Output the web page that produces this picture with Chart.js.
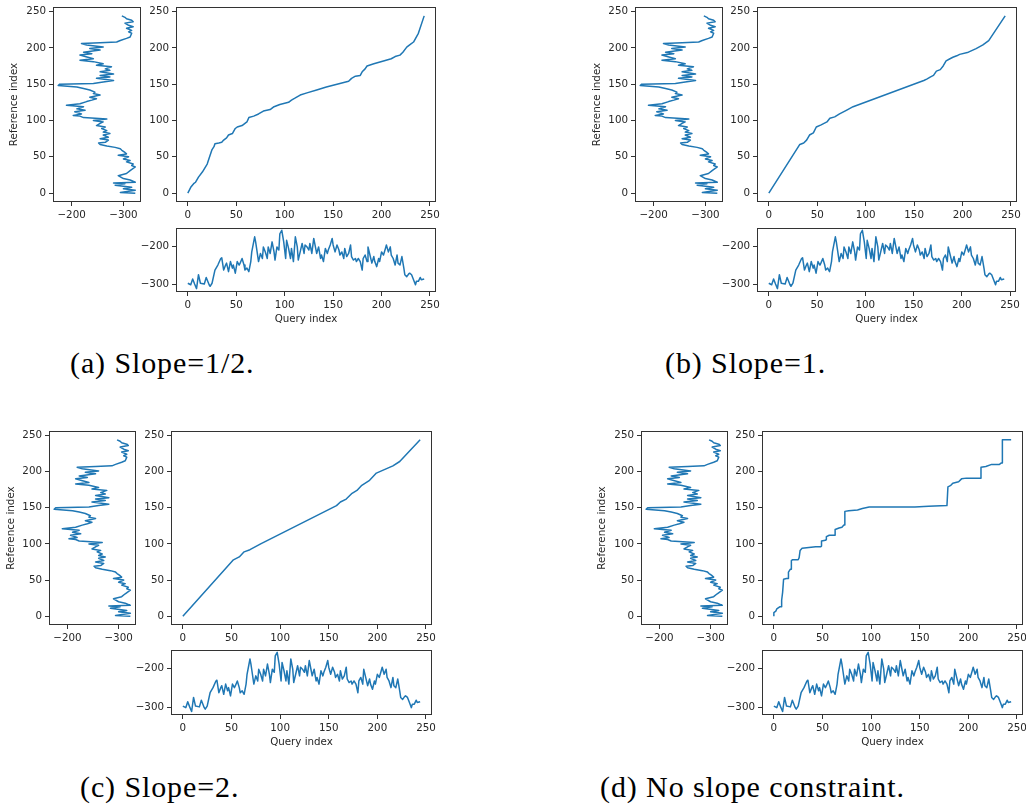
<!DOCTYPE html>
<html>
<head>
<meta charset="utf-8">
<script src="https://cdn.jsdelivr.net/npm/chart.js@4.4.0/dist/chart.umd.min.js"></script>
<style>
  html, body { margin: 0; padding: 0; background: #fff; }
  body { position: relative; width: 1026px; height: 806px; overflow: hidden; }
  canvas { position: absolute; }
  .cap { position: absolute; font-family: "Liberation Serif", serif; font-size: 30px; line-height: 30px;
         letter-spacing: 0.9px; color: #000; white-space: nowrap; }
</style>
</head>
<body>
<script>
// Reference series: sample index and value
const refIndex = [
  0, 1, 4, 6, 8, 11, 13, 14, 15, 18,
  20, 24, 27, 31, 36, 38, 40, 43, 45, 47,
  50, 52, 54, 56, 59, 61, 63, 65, 67, 69,
  70, 73, 75, 77, 80, 82, 84, 86, 89, 91,
  93, 96, 98, 100, 102, 104, 106, 107, 109, 112,
  114, 116, 119, 121, 123, 126, 128, 130, 132, 135,
  137, 139, 142, 144, 146, 148, 150, 151, 153, 155,
  158, 160, 162, 164, 167, 169, 171, 174, 176, 178,
  181, 183, 185, 188, 190, 192, 194, 197, 199, 201,
  204, 206, 207, 208, 210, 213, 215, 220, 222, 224,
  227, 229, 231, 234, 236, 238, 240, 242, 244
];
const refValue = [
  -323, -294, -323, -300, -316, -284, -303, -281, -323, -313,
  -300, -290, -306, -313, -323, -316, -319, -306, -313, -300,
  -310, -290, -306, -303, -297, -294, -284, -268, -255, -252,
  -265, -271, -255, -271, -261, -274, -261, -268, -258, -265,
  -248, -255, -261, -242, -268, -223, -216, -203, -219, -206,
  -226, -210, -223, -190, -216, -229, -239, -248, -235, -255,
  -242, -245, -235, -223, -210, -174, -177, -242, -261, -281,
  -248, -274, -255, -281, -255, -274, -265, -277, -248, -261,
  -242, -216, -242, -226, -216, -239, -223, -255, -235, -261,
  -229, -219, -255, -287, -294, -306, -313, -316, -310, -316,
  -306, -319, -310, -303, -319, -316, -306, -303, -297
];

// Query series: sample index and value
const queryIndex = [
  0, 3, 5, 7, 9, 11, 13, 17, 19, 22,
  23, 25, 28, 31, 34, 35, 37, 39, 40, 42,
  44, 46, 47, 49, 51, 53, 54, 56, 58, 59,
  61, 63, 65, 66, 69, 70, 71, 73, 75, 77,
  78, 80, 82, 83, 85, 87, 89, 90, 92, 94,
  95, 97, 99, 101, 102, 104, 106, 107, 109, 111,
  113, 114, 116, 118, 120, 121, 123, 125, 126, 128,
  130, 132, 133, 135, 137, 138, 140, 142, 144, 145,
  147, 149, 150, 152, 154, 156, 157, 159, 161, 162,
  164, 166, 168, 169, 171, 173, 174, 176, 178, 180,
  181, 183, 185, 186, 188, 190, 192, 193, 195, 197,
  198, 200, 202, 204, 205, 207, 209, 210, 212, 214,
  216, 217, 219, 221, 223, 224, 226, 228, 229, 231,
  233, 235, 236, 238, 240, 241, 244
];
const queryValue = [
  -296, -300, -285, -298, -310, -274, -296, -298, -281, -300,
  -304, -296, -262, -249, -232, -230, -262, -249, -244, -266,
  -240, -257, -249, -270, -240, -249, -244, -232, -249, -262,
  -257, -266, -240, -215, -176, -189, -206, -240, -219, -232,
  -202, -215, -232, -202, -219, -189, -215, -236, -202, -210,
  -168, -159, -189, -232, -185, -206, -232, -206, -240, -176,
  -202, -236, -215, -193, -219, -197, -202, -210, -193, -219,
  -180, -206, -219, -202, -232, -223, -240, -206, -219, -210,
  -197, -180, -197, -215, -197, -210, -223, -215, -232, -206,
  -227, -219, -197, -227, -236, -232, -240, -232, -240, -262,
  -232, -223, -240, -202, -223, -244, -227, -240, -253, -232,
  -240, -215, -223, -206, -197, -215, -202, -223, -232, -249,
  -223, -244, -249, -227, -257, -274, -279, -272, -270, -274,
  -287, -300, -291, -291, -281, -287, -285
];

// Warping paths (query index -> reference index)
const pathHalfQuery = [0, 3, 6, 8, 11, 15, 20, 23, 25, 27, 28, 32, 35, 37, 40, 42, 46, 49, 51, 56, 59, 61, 63, 68, 73, 78, 85, 89, 95, 104, 107, 111, 116, 123, 133, 143, 157, 166, 169, 173, 178, 180, 183, 185, 192, 202, 210, 214, 219, 222, 226, 229, 233, 238, 244];
const pathHalfRef   = [0, 8, 13, 15, 22, 29, 40, 52, 60, 64, 68, 69, 70, 73, 76, 80, 82, 89, 91, 93, 96, 98, 104, 106, 109, 113, 115, 119, 122, 125, 128, 131, 135, 138, 142, 146, 151, 154, 158, 161, 162, 167, 171, 175, 178, 182, 185, 188, 190, 194, 201, 204, 208, 220, 244];

const pathOneQuery = [0, 32, 36, 39, 42, 46, 49, 54, 60, 63, 68, 73, 80, 87, 160, 163, 167, 170, 173, 177, 180, 183, 187, 190, 194, 197, 206, 214, 221, 227, 244];
const pathOneRef   = [0, 67, 69, 73, 80, 83, 91, 94, 98, 103, 105, 109, 114, 119, 155, 157, 160, 162, 168, 170, 175, 182, 185, 187, 189, 191, 194, 199, 204, 210, 244];

const pathTwoQuery = [0, 52, 58, 63, 69, 80, 158, 162, 168, 174, 179, 184, 192, 199, 206, 216, 223, 244];
const pathTwoRef   = [0, 78, 82, 89, 92, 100, 153, 158, 162, 170, 174, 181, 188, 198, 202, 208, 214, 244];

const pathFreeQuery = [0, 0, 2, 3, 6, 8, 8, 9, 10, 13, 15, 15, 17, 18, 18, 19, 25, 26, 27, 29, 36, 43, 48, 49, 49, 53, 54, 54, 57, 63, 63, 67, 70, 72, 73, 73, 77, 86, 91, 98, 145, 159, 178, 179, 182, 184, 190, 193, 198, 212, 213, 218, 224, 232, 234, 235, 235, 244];
const pathFreeRef   = [0, 5, 7, 10, 13, 13, 22, 33, 51, 52, 52, 61, 65, 65, 77, 78, 78, 81, 91, 94, 95, 96, 96, 97, 104, 105, 106, 110, 112, 112, 120, 122, 123, 126, 126, 145, 146, 147, 149, 151, 151, 152, 153, 179, 181, 184, 186, 190, 191, 191, 206, 207, 210, 210, 212, 212, 244, 244];

// Tick positions
const indexTicks = [0, 50, 100, 150, 200, 250];
const valueTicks = [-200, -300];

const captions = ['(a) Slope=1/2.', '(b) Slope=1.', '(c) Slope=2.', '(d) No slope constraint.'];
const refAxisTitle = 'Reference index';
const queryAxisTitle = 'Query index';

// ---------- drawing ----------
const FONT = "'DejaVu Sans', sans-serif";
const FS = 10.3;
const LH = FS * 1.2;
const TEXT = '#262626';
const EDGE = '#333333';
const LINE = '#1f77b4';

const indexRange = { min: -12.2, max: 256.2 };
const refValueRange = { min: -334, max: -164 };
const queryValueRange = { min: -318.7, max: -153.1 };

const fmt = v => (v < 0 ? '\u2212' + Math.abs(v) : String(v));

const framePlugin = {
  id: 'frame',
  afterDatasetsDraw(chart) {
    const { ctx, chartArea: a } = chart;
    ctx.save();
    ctx.strokeStyle = EDGE;
    ctx.lineWidth = 1;
    ctx.strokeRect(a.left + 0.5, a.top + 0.5, a.right - a.left - 1, a.bottom - a.top - 1);
    ctx.restore();
  }
};

function axis(range, ticks, size, horizontal, extra) {
  extra = extra || {};
  return {
    type: 'linear',
    min: range.min,
    max: range.max,
    reverse: !!extra.reverse,
    afterBuildTicks: s => { s.ticks = ticks.map(v => ({ value: v })); },
    afterFit: s => {
      if (horizontal) s.height = size; else s.width = size;
      s.paddingLeft = s.paddingRight = s.paddingTop = s.paddingBottom = 0;
    },
    border: { display: false },
    grid: { drawOnChartArea: false, drawTicks: true, tickLength: 4, color: EDGE, lineWidth: 1 },
    ticks: {
      font: { family: FONT, size: FS }, color: TEXT, padding: 3,
      maxRotation: 0, minRotation: 0, autoSkip: false,
      callback: v => fmt(v)
    },
    title: extra.title
      ? { display: true, text: extra.title, color: TEXT, font: { family: FONT, size: FS }, padding: extra.titlePad }
      : { display: false }
  };
}

function plot(frame, pad, xScale, yScale, points) {
  const [L, T, R, B] = frame;
  const w = R - L + pad.l + pad.r;
  const h = B - T + pad.t + pad.b;
  const c = document.createElement('canvas');
  c.width = w; c.height = h;
  c.style.left = (L - pad.l) + 'px';
  c.style.top = (T - pad.t) + 'px';
  c.style.width = w + 'px';
  c.style.height = h + 'px';
  document.body.appendChild(c);
  return new Chart(c, {
    type: 'scatter',
    data: {
      datasets: [{
        data: points, showLine: true, borderColor: LINE, borderWidth: 1.5,
        pointRadius: 0, pointHoverRadius: 0, tension: 0, fill: false,
        borderJoinStyle: 'round'
      }]
    },
    options: {
      responsive: false, animation: false, devicePixelRatio: 1, events: [],
      layout: { padding: { top: pad.t, right: pad.r, left: 0, bottom: 0 } },
      plugins: { legend: { display: false }, tooltip: { enabled: false }, title: { display: false } },
      scales: { x: xScale, y: yScale }
    },
    plugins: [framePlugin]
  });
}

const zip = (xs, ys) => xs.map((x, i) => ({ x, y: ys[i] }));

const panels = [
  { left: [53, 7, 141, 202], main: [176, 7, 436, 202], bottom: [176, 228, 436, 292],
    refLabelX: 14.6, queryLabelY: 319, cap: [70, 373], q: pathHalfQuery, r: pathHalfRef },
  { left: [635, 7, 723, 202], main: [757, 7, 1017, 202], bottom: [757, 228, 1016, 292],
    refLabelX: 597.5, queryLabelY: 319, cap: [665, 373], q: pathOneQuery, r: pathOneRef },
  { left: [49, 431, 136, 625], main: [171, 431, 432, 625], bottom: [171, 650, 432, 715],
    refLabelX: 11.6, queryLabelY: 742, cap: [80, 797], q: pathTwoQuery, r: pathTwoRef },
  { left: [641, 431, 728, 625], main: [762, 431, 1023, 625], bottom: [762, 650, 1023, 715],
    refLabelX: 602.5, queryLabelY: 742, cap: [600, 797], q: pathFreeQuery, r: pathFreeRef }
];

panels.forEach((p, k) => {
  // reference series, drawn vertically with the value axis reversed
  const canvasLeft = Math.floor(p.refLabelX - 8);
  const lp = { l: p.left[0] - canvasLeft, t: 8, r: 8, b: 22 };
  plot(p.left, lp,
    axis(refValueRange, valueTicks, lp.b, true, { reverse: true }),
    axis(indexRange, indexTicks, lp.l, false, {
      title: refAxisTitle, titlePad: { top: p.refLabelX - canvasLeft - LH / 2, bottom: 0 }
    }),
    zip(refValue, refIndex));

  // warping path
  const mp = { l: 32, t: 8, r: 10, b: 22 };
  plot(p.main, mp,
    axis(indexRange, indexTicks, mp.b, true),
    axis(indexRange, indexTicks, mp.l, false),
    zip(p.q, p.r));

  // query series
  const bp = { l: 36, t: 6, r: 10, b: 38 };
  const canvasBottom = p.bottom[3] + bp.b;
  plot(p.bottom, bp,
    axis(indexRange, indexTicks, bp.b, true, {
      title: queryAxisTitle, titlePad: { top: 0, bottom: canvasBottom - p.queryLabelY - LH / 2 }
    }),
    axis(queryValueRange, valueTicks, bp.l, false),
    zip(queryIndex, queryValue));

  // caption
  const d = document.createElement('div');
  d.className = 'cap';
  d.textContent = captions[k];
  d.style.left = p.cap[0] + 'px';
  d.style.top = (p.cap[1] - 25) + 'px';
  document.body.appendChild(d);
});
</script>
</body>
</html>
